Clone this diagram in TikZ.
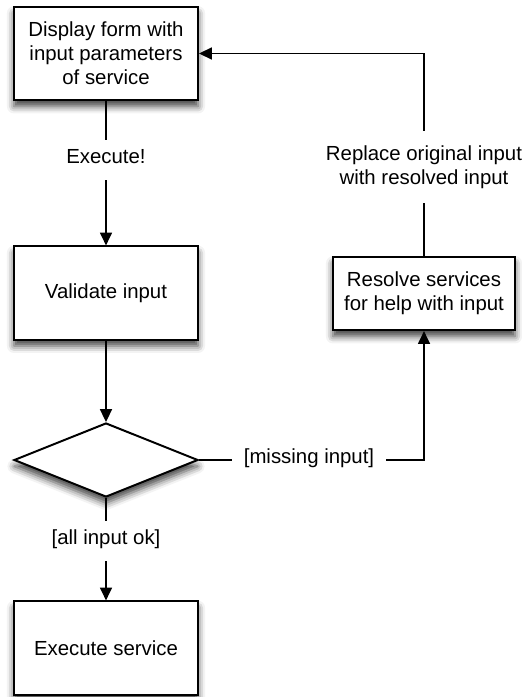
\documentclass[tikz,border=0pt]{standalone}
\usepackage{fontspec}
\setmainfont{Liberation Sans}
\usetikzlibrary{arrows.meta,shapes.geometric,shadows.blur}

\begin{document}
\begin{tikzpicture}[x=0.025cm, y=-0.025cm,
		every node/.style={font=\fontsize{14.5}{17.1}\selectfont},
		soft/.style={blur shadow={shadow xshift=0pt, shadow yshift=-4.5pt, shadow blur radius=5pt, shadow opacity=75}},
		stepbox/.style={draw, line width=1.4pt, fill=white, align=center,
			minimum width=4.6cm, minimum height=2.33cm, inner sep=0pt, soft},
		decide/.style={draw, diamond, line width=1.4pt, fill=white, inner sep=0pt,
			minimum width=4.6cm, minimum height=1.85cm, soft},
		guard/.style={align=center, inner xsep=0.3cm, inner ysep=0.33cm, text height=0.72em, text depth=0.22em},
		flow/.style={line width=1pt},
		tip/.style={-{Triangle[length=0.32cm, width=0.3cm]}}]
			%%%%% START %%%%%
			
			\useasboundingbox (0, 0) rectangle (521, 697);
			
			\node[stepbox] (display) at (106, 53.5) {Display form with\\input parameters\\of service};
			\node[stepbox] (validate) at (106, 293) {Validate input};
			\node[decide] (check) at (106, 460) {};
			\node[stepbox] (execute) at (106, 648) {Execute service};
			\node[stepbox, minimum width=4.55cm, minimum height=1.83cm] (resolve) at (424, 293.5) {Resolve services\\for help with input};
			
			\node[guard] (go) at (106, 160) {Execute!};
			\node[guard] (ok) at (106, 541) {[all input ok]};
			\node[guard] (missing) at (309, 460) {[missing input]};
			\node[guard, text height=, text depth=, inner ysep=0.36cm] (replace) at (424, 167) {Replace original input\\with resolved input};
			
			\draw[flow] (display.south) -- (go.north);
			\draw[flow, tip] (go.south) -- (validate.north);
			\draw[flow, tip] (validate.south) -- (check.north);
			\draw[flow] (check.south) -- (ok.north);
			\draw[flow, tip] (ok.south) -- (execute.north);
			\draw[flow] (check.east) -- (missing.west);
			\draw[flow, tip] (missing.east) -| (resolve.south);
			\draw[flow] (resolve.north) -- (replace.south);
			\draw[flow, tip] (replace.north) |- (display.east);
			
			%%%%% END %%%%%
\end{tikzpicture}
\end{document}
